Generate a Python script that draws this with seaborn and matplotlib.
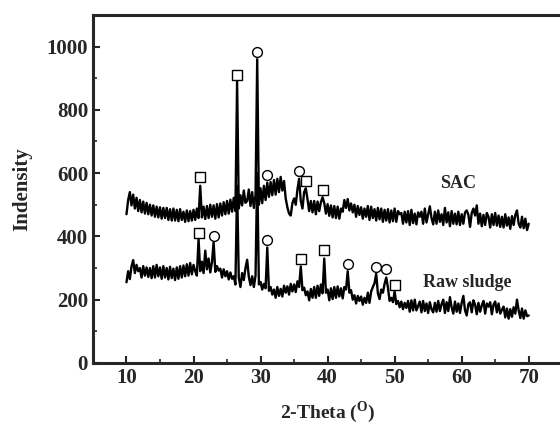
import numpy as np
import pandas as pd
import matplotlib
matplotlib.use("Agg")
import matplotlib.pyplot as plt
import seaborn as sns

sac_counts = [
    470, 515, 540, 498,  532, 488, 522, 480,  515, 476, 510, 472,  506, 470, 500, 466,
    498, 462, 494, 460,  492, 456, 490, 458,  490, 452, 486, 450,  488, 450, 484, 448,
    486, 452, 478, 446,  482, 448, 480, 450,  484, 452, 488, 458,  560, 460, 494, 455,
    496, 458, 500, 462,  498, 456, 502, 460,  504, 466, 508, 470,  512, 472, 516, 478,
    522, 480, 890, 488,  530, 498, 545, 506,  512, 548, 496, 540,  490, 530, 960, 500,
    552, 505, 560, 515,  570, 525, 572, 530,  578, 532, 582, 540,  588, 545, 575, 520,
    492, 472, 466, 505,  520, 500, 548, 582,  512, 488, 540, 552,  518, 480, 512, 476,
    512, 470, 510, 480,  508, 524, 505, 472,  502, 465, 498, 460,  496, 458, 494, 456,
    488, 478, 515, 490,  518, 482, 504, 476,  500, 462, 496, 468,  492, 456, 488, 462,
    496, 452, 494, 458,  486, 450, 490, 454,  488, 446, 484, 450,  486, 444, 482, 448,
    488, 446, 480, 470,  474, 440, 478, 444,  480, 436, 484, 442,  472, 438, 476, 462,
    478, 440, 488, 444,  470, 495, 458, 438,  478, 440, 482, 446,  470, 436, 490, 444,
    476, 432, 480, 440,  472, 438, 478, 436,  470, 440, 476, 482,  468, 430, 474, 488,
    466, 498, 440, 472,  432, 468, 436, 474,  462, 428, 470, 436,  474, 434, 466, 430,
    462, 428, 470, 434,  460, 424, 464, 436,  468, 482, 440, 428,  462, 426, 456, 420,
    440,
]
raw_counts = [
    255, 290, 265, 305,  325, 284, 310, 290,  300, 270, 306, 276,  302, 272, 300, 268,
    306, 270, 310, 274,  302, 266, 306, 270,  300, 264, 304, 268,  298, 262, 302, 266,
    306, 270, 308, 274,  312, 276, 316, 280,  310, 290, 276, 392,  290, 320, 284, 355,
    296, 330, 286, 318,  382, 288, 306, 292,  298, 270, 296, 274,  290, 264, 286, 266,
    274, 248, 560, 270,  240, 284, 262, 300,  326, 272, 246, 274,  240, 276, 600, 248,
    256, 232, 250, 236,  365, 228, 240, 216,  232, 206, 240, 212,  234, 210, 244, 222,
    242, 216, 250, 226,  248, 224, 258, 240,  305, 230, 238, 214,  226, 198, 234, 206,
    240, 206, 244, 212,  248, 220, 330, 222,  232, 198, 236, 202,  240, 206, 242, 210,
    236, 204, 240, 232,  290, 222, 230, 200,  214, 188, 212, 196,  210, 184, 206, 190,
    222, 190, 226, 240,  252, 282, 220, 202,  232, 222, 250, 270,  238, 196, 206, 192,
    226, 186, 196, 176,  194, 170, 190, 174,  196, 162, 198, 166,  200, 166, 180, 194,
    160, 196, 164, 188,  158, 192, 170, 160,  190, 162, 196, 164,  186, 200, 158, 192,
    164, 208, 176, 156,  194, 162, 188, 158,  190, 212, 166, 150,  186, 192, 160, 198,
    184, 154, 190, 162,  182, 196, 156, 188,  178, 192, 154, 184,  194, 160, 188, 156,
    168, 178, 144, 172,  140, 170, 146, 176,  156, 200, 166, 142,  172, 140, 166, 148,
    150,
]
theta = 10 + 0.25 * np.arange(len(sac_counts))

# phase markers above the peaks
sac_square_x = [21.0, 26.5, 36.75, 39.25]
sac_square_y = [588, 910, 575, 548]
sac_circle_x = [29.5, 31.0, 35.75]
sac_circle_y = [982, 595, 608]
raw_square_x = [20.75, 36.0, 39.5, 50.0]
raw_square_y = [412, 330, 357, 245]
raw_circle_x = [23.0, 31.0, 43.0, 47.25, 48.75]
raw_circle_y = [402, 390, 313, 302, 297]

sns.set_style("ticks")
plt.rcParams["font.family"] = ["Liberation Serif", "DejaVu Serif"]
plt.rcParams["font.weight"] = "bold"
plt.rcParams["mathtext.fontset"] = "custom"
plt.rcParams["mathtext.rm"] = "Liberation Serif:bold"
plt.rcParams["xtick.direction"] = "in"
plt.rcParams["ytick.direction"] = "in"

df = pd.DataFrame({"theta": np.concatenate([theta, theta]),
                   "counts": sac_counts + raw_counts,
                   "sample": ["SAC"] * len(theta) + ["Raw sludge"] * len(theta)})

fig = plt.figure(figsize=(5.6, 4.26), dpi=100)
ax = fig.add_axes([0.166, 0.148, 0.838, 0.817])

sns.lineplot(data=df, x="theta", y="counts", units="sample", estimator=None,
             color="black", lw=1.7, ax=ax)

for xs, ys, m in [(sac_square_x, sac_square_y, "s"), (sac_circle_x, sac_circle_y, "o"),
                  (raw_square_x, raw_square_y, "s"), (raw_circle_x, raw_circle_y, "o")]:
    sns.scatterplot(x=xs, y=ys, marker=m, s=50, facecolor="white",
                    edgecolor="black", linewidth=1.0, ax=ax, zorder=3)

ax.text(59.4, 568, "SAC", ha="center", va="center", fontsize=13, fontweight="bold")
ax.text(60.9, 253, "Raw sludge", ha="center", va="center", fontsize=13, fontweight="bold")

ax.set_xlim(5, 75)
ax.set_ylim(0, 1100)
ax.set_xticks(range(10, 71, 10))
ax.set_xticks(range(15, 70, 10), minor=True)
ax.set_yticks(range(0, 1001, 200))
ax.set_yticks(range(100, 1100, 200), minor=True)
ax.tick_params(which="major", length=5, width=1.5, labelsize=15)
ax.tick_params(which="minor", length=3, width=1.2)
for lab in ax.get_xticklabels() + ax.get_yticklabels():
    lab.set_fontweight("bold")

ax.spines["right"].set_visible(False)
for s in ["left", "bottom", "top"]:
    ax.spines[s].set_linewidth(2.2)

ax.set_xlabel(r"2-Theta ($^{\rm O}$)", fontsize=14, fontweight="bold", labelpad=8)
ax.set_ylabel("Indensity", fontsize=15, fontweight="bold", labelpad=10)

fig.savefig("out.png", dpi=100)
